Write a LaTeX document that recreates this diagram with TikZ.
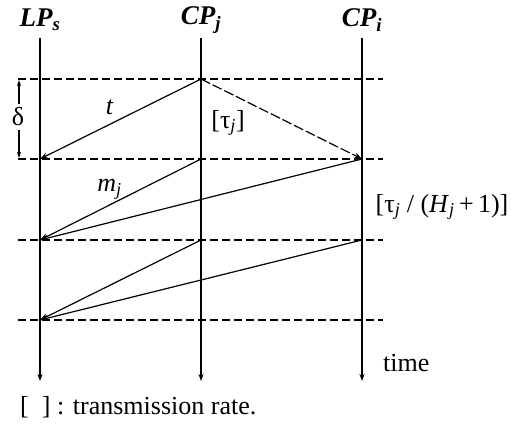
\documentclass[tikz,border=0pt]{standalone}
\usepackage{fontspec}
\setmainfont{Liberation Serif}
\usetikzlibrary{arrows.meta, positioning, calc}

\begin{document}
\begin{tikzpicture}[x=1pt, y=-1pt]

\tikzset{
  lifeline/.style={black, line width=1.3pt, -{Stealth[length=7pt, width=5pt]}},
  levelline/.style={black, line width=1.1pt, dash pattern=on 8pt off 4pt},
  msg/.style={black, line width=1.2pt, -{Stealth[open, length=8pt, width=6pt]}},
  ratemsg/.style={msg, dash pattern=on 10pt off 3pt},
  proclabel/.style={font=\fontsize{27}{29}\selectfont\bfseries\itshape, inner sep=0pt},
  ratelabel/.style={font=\fontsize{26}{28}\selectfont, inner sep=0pt},
}

  \useasboundingbox (0,0) rectangle (511,429);

  % ── Process names and lifelines ───────────────────────────
  \foreach \nm/\x/\lbl in {lps/40/{LP\textsubscript{s}},
                           cpj/201/{CP\textsubscript{j}},
                           cpi/362/{CP\textsubscript{i}}}{
    \node[proclabel] (\nm) at (\x,20) {\lbl};
    \coordinate (\nm-top) at (\x,38);
    \coordinate (\nm-bot) at (\x,381);
    \draw[lifeline] (\nm-top) -- (\nm-bot);
  }

  % ── Time levels ───────────────────────────────────────────
  \foreach \k/\y in {1/79, 2/159, 3/240, 4/320}{
    \draw[levelline] (18,\y) -- (383,\y);
    \coordinate (s\k) at (40,\y);
    \coordinate (j\k) at (201,\y);
    \coordinate (i\k) at (362,\y);
  }

  % ── Messages ──────────────────────────────────────────────
  \draw[msg] (j1) -- node[ratelabel, font=\fontsize{26}{28}\selectfont\itshape,
    pos=0.55, above=8pt, xshift=-3pt] {t} (s2);
  \draw[ratemsg] (j1) -- (i2);
  \node[ratelabel] (tauj) at (228,123) {[τ\textsubscript{\textit{j}}]};

  \draw[msg] (j2) -- node[ratelabel, font=\fontsize{26}{28}\selectfont\itshape,
    pos=0.55, above=4pt, xshift=-3pt] {m\textsubscript{j}} (s3);
  \draw[msg] (i2) -- (s3);
  \node[ratelabel] (taujh) at (442,207)
    {[τ\textsubscript{\textit{j}} / (\textit{H}\textsubscript{\textit{j}}\,+\,1)]};

  \foreach \k/\n in {3/4}{
    \draw[msg] (j\k) -- (s\n);
    \draw[msg] (i\k) -- (s\n);
  }

  % ── Delta interval ────────────────────────────────────────
  \node[ratelabel] (delta) at (18,117) {δ};
  \coordinate (dtop) at (19,80);
  \coordinate (dbot) at (19,158);
  \draw[black, line width=1.1pt, -{Stealth[length=6pt, width=4pt]}]
    (delta.north -| dtop) ++(0,-4) -- (dtop);
  \draw[black, line width=1.1pt, -{Stealth[length=6pt, width=4pt]}]
    (delta.south -| dbot) ++(0,4) -- (dbot);

  % ── Notes ─────────────────────────────────────────────────
  \node[ratelabel, anchor=west] (timelbl) at (383,363) {time};
  \node[ratelabel, anchor=west] (legend) at (20,407) {[~~] : transmission rate.};

\end{tikzpicture}
\end{document}
